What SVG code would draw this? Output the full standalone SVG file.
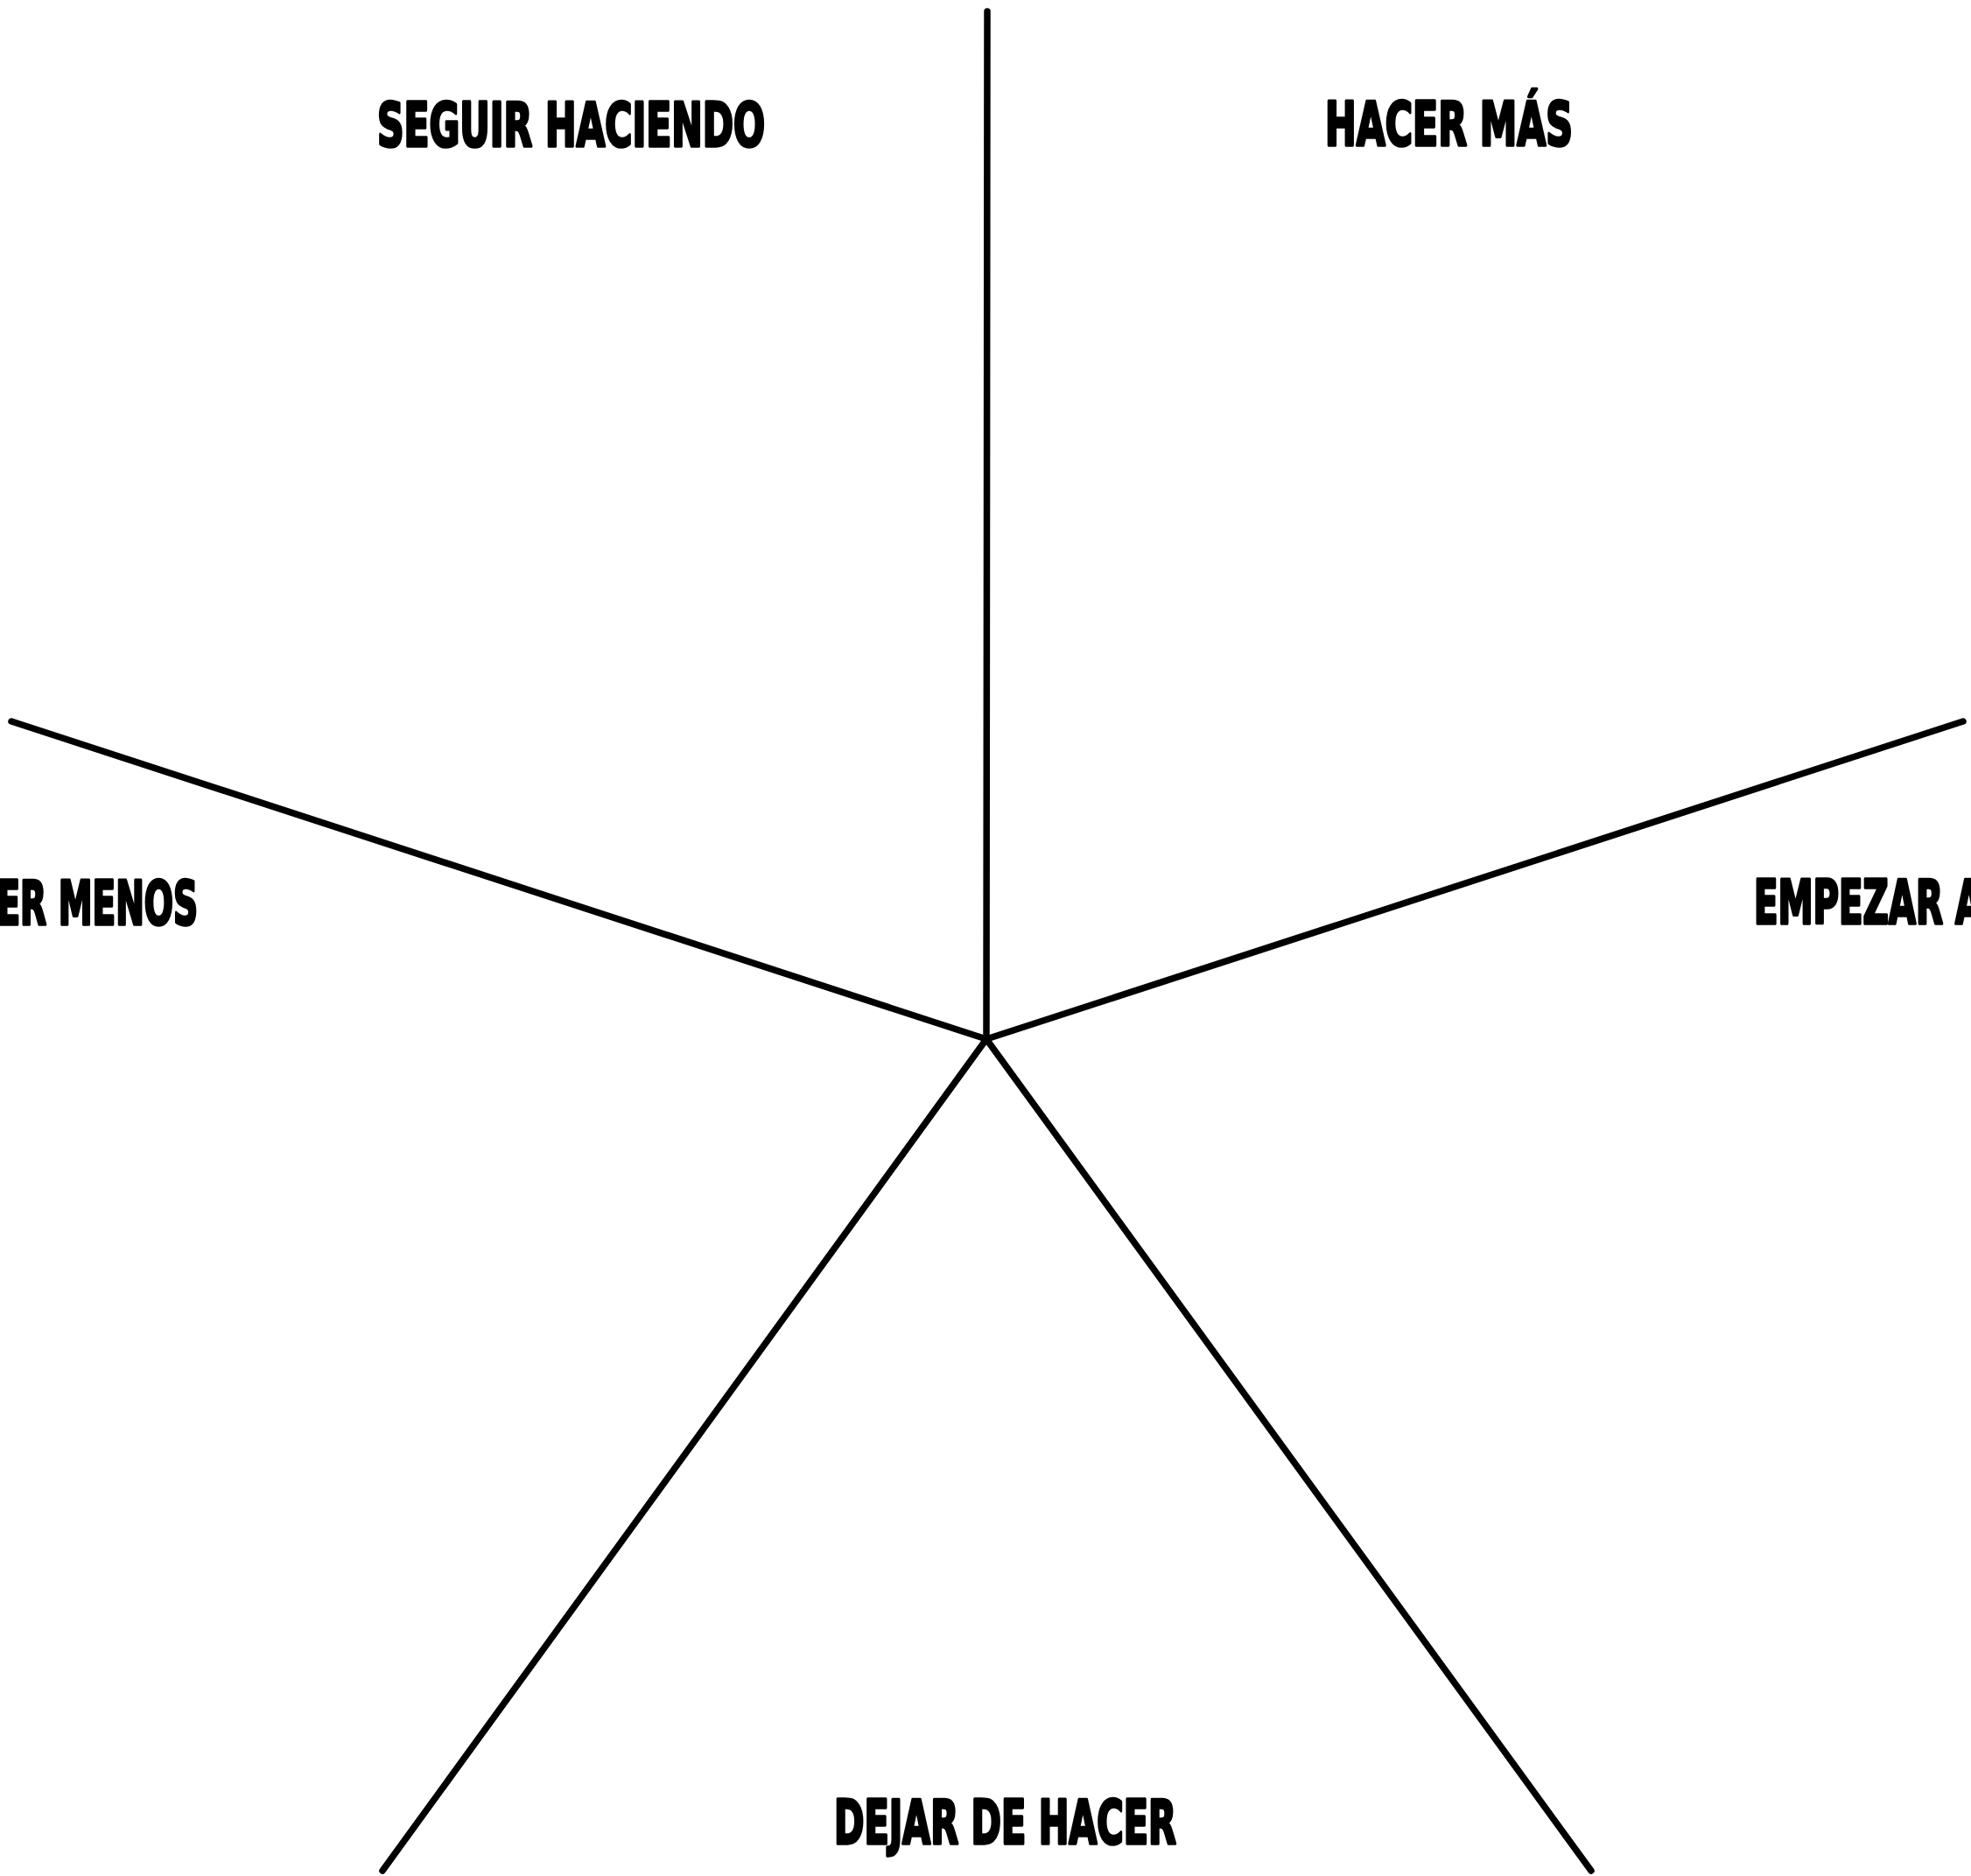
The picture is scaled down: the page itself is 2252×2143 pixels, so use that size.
<svg xmlns="http://www.w3.org/2000/svg" width="2252" height="2143" viewBox="0 0 2252 2143">
<style>
.lbl{font-family:"DejaVu Sans","Liberation Sans",sans-serif;font-weight:bold;font-stretch:condensed;font-size:70px;fill:#000;stroke:#000;stroke-width:3.5;stroke-linejoin:round}
.ray{stroke:#000;stroke-width:7.5;stroke-linecap:round;fill:none}
</style>
<rect width="2252" height="2143" fill="#fff"/>
<g id="connectors">
<line class="ray" x1="1127" y1="1187" x2="1128" y2="13"/>
<line class="ray" x1="1127" y1="1187" x2="13" y2="824"/>
<line class="ray" x1="1127" y1="1187" x2="2243" y2="824"/>
<line class="ray" x1="1127" y1="1187" x2="437" y2="2137"/>
<line class="ray" x1="1127" y1="1187" x2="1818" y2="2137"/>
</g>
<g id="seguir"><text class="lbl" x="431" y="167" textLength="443" lengthAdjust="spacingAndGlyphs">SEGUIR HACIENDO</text></g>
<g id="hacer-mas"><text class="lbl" x="1514" y="166" textLength="283" lengthAdjust="spacingAndGlyphs">HACER MÁS</text></g>
<g id="hacer-menos"><text class="lbl" x="-95" y="1056" textLength="321" lengthAdjust="spacingAndGlyphs">HACER MENOS</text></g>
<g id="empezar"><text class="lbl" x="2004" y="1055" textLength="428" lengthAdjust="spacingAndGlyphs">EMPEZAR A HACER</text></g>
<g id="dejar"><text class="lbl" x="953" y="2106" textLength="391" lengthAdjust="spacingAndGlyphs">DEJAR DE HACER</text></g>
</svg>
